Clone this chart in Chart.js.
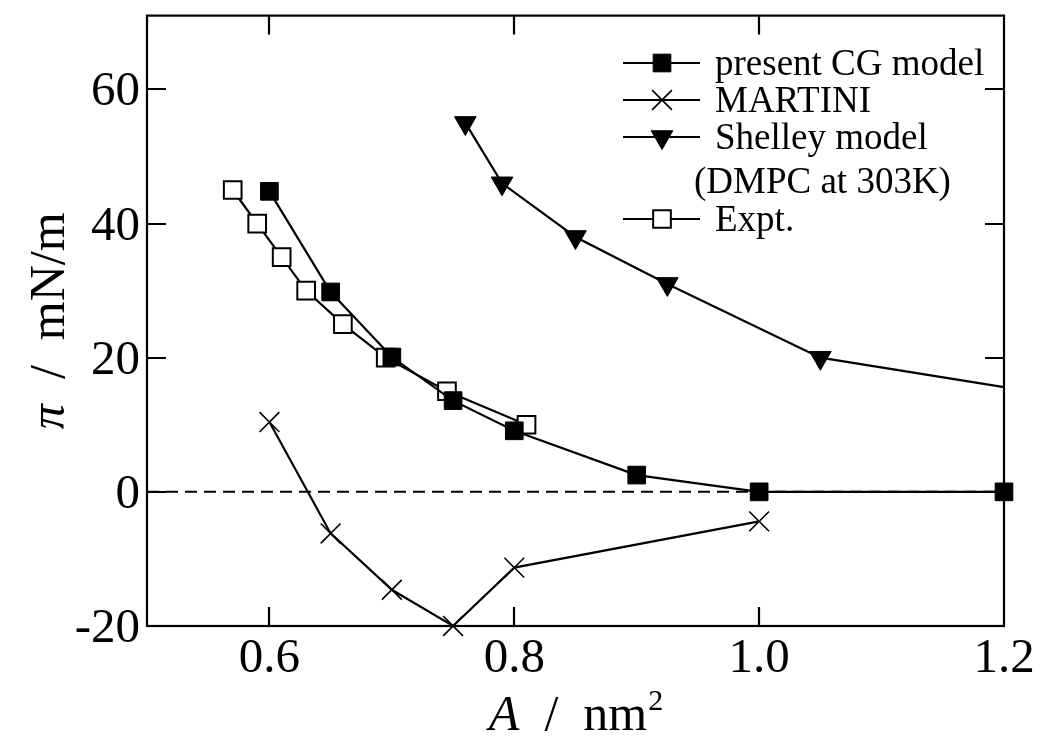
<!DOCTYPE html>
<html>
<head>
<meta charset="utf-8">
<script src="https://cdn.jsdelivr.net/npm/chart.js@4/dist/chart.umd.min.js"></script>
<style>
  html, body { margin: 0; padding: 0; background: #fff; }
  #wrap { width: 1050px; height: 754px; position: relative; }
</style>
</head>
<body>
<div id="wrap"><canvas id="c"></canvas></div>
<script>
// ---- data ----
const seriesNames = ['present CG model', 'MARTINI', 'Shelley model', 'Expt.'];
const shelleyNote = '(DMPC at 303K)';

const cgA = [0.60, 0.65, 0.70, 0.75, 0.80, 0.90, 1.00, 1.20];
const cgPi = [44.8, 29.8, 20.1, 13.6, 9.1, 2.5, 0, 0];

const martiniA = [0.60, 0.65, 0.70, 0.75, 0.80, 1.00];
const martiniPi = [10.4, -6.2, -14.6, -20.0, -11.3, -4.4];

const shelleyA = [0.76, 0.79, 0.85, 0.925, 1.05, 1.20];
const shelleyPi = [55, 46, 38, 31, 20, 15.6];

const exptA = [0.57, 0.59, 0.61, 0.63, 0.66, 0.695, 0.745, 0.81];
const exptPi = [45, 40, 35, 30, 25, 20, 15, 10];

const zeroA = [0.5, 1.2];
const zeroPi = [0, 0];

const xTickValues = [0.6, 0.8, 1.0, 1.2];
const xTickLabels = ['0.6', '0.8', '1.0', '1.2'];
const yTickValues = [-20, 0, 20, 40, 60];
const yTickLabels = ['-20', '0', '20', '40', '60'];

const xTitle = { italic: 'A', rest: '  /  nm', sup: '2' };
const yTitle = { italic: 'π', rest: '  /  mN/m' };

// ---- helpers ----
const pts = (xs, ys) => xs.map((x, i) => ({ x: x, y: ys[i] }));
const SERIF = '"Liberation Serif", "DejaVu Serif", serif';

const styles = [
  { pointStyle: 'rect', rotation: 0, radius: 12.5, bg: '#000', bw: 1 },
  { pointStyle: 'crossRot', rotation: 0, radius: 14, bg: '#000', bw: 1.6 },
  { pointStyle: 'triangle', rotation: 180, radius: 12.5, bg: '#000', bw: 1 },
  { pointStyle: 'rect', rotation: 0, radius: 12.5, bg: '#fff', bw: 2 }
];

function ds(label, data, st, extra) {
  return Object.assign({
    label: label,
    data: data,
    showLine: true,
    borderColor: '#000',
    borderWidth: 2.2,
    tension: 0,
    pointStyle: st.pointStyle,
    rotation: st.rotation,
    pointRadius: st.radius,
    pointBackgroundColor: st.bg,
    pointBorderColor: '#000',
    pointBorderWidth: st.bw,
    clip: false,
    order: 1
  }, extra || {});
}

const decorPlugin = {
  id: 'decor',
  beforeDatasetsDraw(chart) {
    const ctx = chart.ctx;
    const a = chart.chartArea;
    const xs = chart.scales.x, ys = chart.scales.y;
    ctx.save();
    ctx.strokeStyle = '#000';
    ctx.lineWidth = 2.2;
    ctx.strokeRect(a.left, a.top, a.right - a.left, a.bottom - a.top);
    const tl = 19;
    ctx.beginPath();
    xTickValues.forEach(v => {
      const px = Math.round(xs.getPixelForValue(v));
      if (px <= a.left + 1 || px >= a.right - 1) return;
      ctx.moveTo(px, a.bottom); ctx.lineTo(px, a.bottom - tl);
      ctx.moveTo(px, a.top); ctx.lineTo(px, a.top + tl);
    });
    yTickValues.forEach(v => {
      const py = Math.round(ys.getPixelForValue(v));
      if (py >= a.bottom - 1 || py <= a.top + 1) return;
      ctx.moveTo(a.left, py); ctx.lineTo(a.left + tl, py);
      ctx.moveTo(a.right, py); ctx.lineTo(a.right - tl, py);
    });
    ctx.stroke();
    ctx.restore();
  },
  afterDraw(chart) {
    const ctx = chart.ctx;
    const a = chart.chartArea;
    const xs = chart.scales.x, ys = chart.scales.y;
    ctx.save();
    ctx.fillStyle = '#000';
    // tick labels
    ctx.font = '49px ' + SERIF;
    ctx.textBaseline = 'alphabetic';
    ctx.textAlign = 'right';
    yTickValues.forEach((v, i) => {
      const py = ys.getPixelForValue(v);
      ctx.fillText(yTickLabels[i], a.left - 7, py + 16);
    });
    ctx.textAlign = 'center';
    xTickValues.forEach((v, i) => {
      const px = xs.getPixelForValue(v);
      ctx.fillText(xTickLabels[i], px, a.bottom + 46);
    });
    // x title
    ctx.textAlign = 'left';
    const fI = 'italic 50px ' + SERIF, fR = '50px ' + SERIF, fS = '30px ' + SERIF;
    ctx.font = fI; const wA = ctx.measureText(xTitle.italic).width;
    ctx.font = fR; const wR = ctx.measureText(xTitle.rest).width;
    ctx.font = fS; const wS = ctx.measureText(xTitle.sup).width;
    let x0 = (a.left + a.right) / 2 - (wA + wR + wS) / 2;
    const by = 730;
    ctx.font = fI; ctx.fillText(xTitle.italic, x0, by);
    ctx.font = fR; ctx.fillText(xTitle.rest, x0 + wA, by);
    ctx.font = fS; ctx.fillText(xTitle.sup, x0 + wA + wR + 1, by - 20);
    // y title
    ctx.save();
    ctx.translate(64, (a.top + a.bottom) / 2);
    ctx.rotate(-Math.PI / 2);
    ctx.font = fI; const wP = ctx.measureText(yTitle.italic).width;
    ctx.font = fR; const wY = ctx.measureText(yTitle.rest).width;
    let y0 = -(wP + wY) / 2;
    ctx.font = fI; ctx.fillText(yTitle.italic, y0, 0);
    ctx.font = fR; ctx.fillText(yTitle.rest, y0 + wP, 0);
    ctx.restore();
    // legend
    const rows = [63, 100, 137, 219];
    const lx1 = 623, lx2 = 700, mx = 662, tx = 715;
    ctx.font = '37px ' + SERIF;
    rows.forEach((ry, i) => {
      const st = styles[i];
      ctx.strokeStyle = '#000';
      ctx.lineWidth = 2.2;
      ctx.beginPath(); ctx.moveTo(lx1, ry); ctx.lineTo(lx2, ry); ctx.stroke();
      ctx.fillStyle = st.bg;
      ctx.lineWidth = st.bw;
      Chart.helpers.drawPoint(ctx, { pointStyle: st.pointStyle, rotation: st.rotation, radius: st.radius, borderWidth: st.bw }, mx, ry);
      ctx.fillStyle = '#000';
      ctx.fillText(seriesNames[i], tx, ry + 12);
    });
    ctx.fillText(shelleyNote, 694, 193);
    ctx.restore();
  }
};

const chart = new Chart(document.getElementById('c'), {
  type: 'scatter',
  data: {
    datasets: [
      { label: 'zero', data: pts(zeroA, zeroPi), showLine: true, borderColor: '#000', borderWidth: 2,
        borderDash: [12, 7], pointRadius: 0, order: 10, clip: false },
      ds(seriesNames[0], pts(cgA, cgPi), styles[0], { order: 1 }),
      ds(seriesNames[1], pts(martiniA, martiniPi), styles[1], { order: 3 }),
      ds(seriesNames[2], pts(shelleyA, shelleyPi), styles[2],
         { order: 4, pointRadius: shelleyA.map((v, i) => i === shelleyA.length - 1 ? 0 : styles[2].radius) }),
      ds(seriesNames[3], pts(exptA, exptPi), styles[3], { order: 2 })
    ]
  },
  options: {
    responsive: true,
    maintainAspectRatio: false,
    animation: false,
    devicePixelRatio: 1,
    layout: { padding: { top: 15, right: 46, left: 0, bottom: 0 } },
    plugins: { legend: { display: false }, tooltip: { enabled: false } },
    scales: {
      x: {
        type: 'linear', min: 0.5, max: 1.2,
        grid: { display: false }, border: { display: false },
        ticks: { display: false },
        afterFit(s) { s.height = 128; }
      },
      y: {
        type: 'linear', min: -20, max: 71,
        grid: { display: false }, border: { display: false },
        ticks: { display: false },
        afterFit(s) { s.width = 147; }
      }
    }
  },
  plugins: [decorPlugin]
});
</script>
</body>
</html>
